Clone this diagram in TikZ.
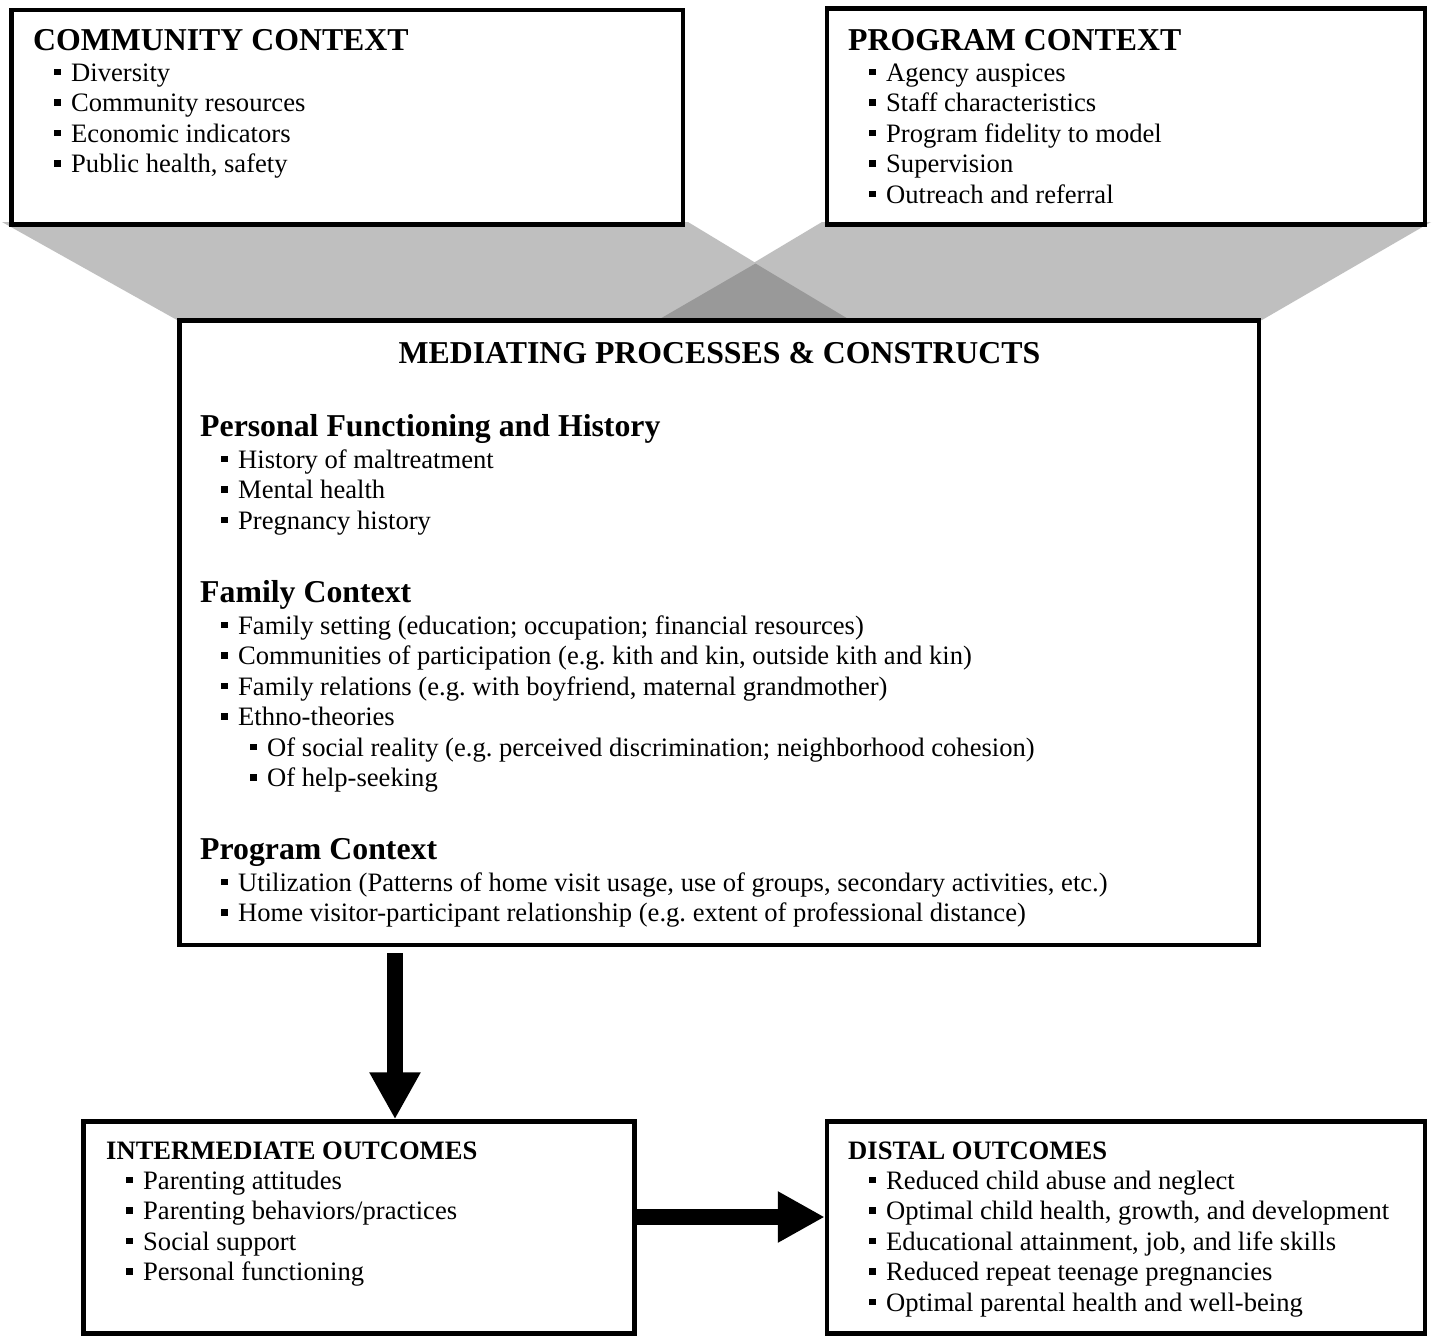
\documentclass[tikz,border=0pt]{standalone}
\usepackage{fontspec}
\setmainfont{Liberation Serif}
\usetikzlibrary{arrows.meta}
\frenchspacing
\newcommand\sqb{\rule[6pt]{6.5pt}{6.5pt}\hspace{10.5pt}}
\begin{document}
\begin{tikzpicture}[x=1pt,y=-1pt,
  box/.style={draw=black, line width=4.5pt, fill=white, rectangle, inner sep=0pt},
  hd/.style={anchor=base west, inner sep=0pt, font=\bfseries\fontsize{31.8pt}{36pt}\selectfont},
  shd/.style={anchor=base west, inner sep=0pt, font=\bfseries\fontsize{26.6pt}{30pt}\selectfont},
  itm/.style={anchor=base west, inner sep=0pt, font=\fontsize{26.6pt}{30pt}\selectfont},
  bigarrow/.style={line width=16.5pt, -{Triangle[length=47pt,width=48pt]}},
  funnel/.style={fill=black!25},
  overlapfill/.style={fill=black!40}]
\useasboundingbox (0,0) rectangle (1435,1336);
\fill[white] (0,0) rectangle (1435,1336);
% funnels
\fill[funnel] (2,222) -- (688,222) -- (850,320) -- (177,320) -- cycle;
\fill[funnel] (822,222) -- (1431,222) -- (1262,320) -- (658,320) -- cycle;
\fill[overlapfill] (755.5,263.5) -- (850,320) -- (658,320) -- cycle;
% boxes
\node[box, minimum width=671.5pt, minimum height=214.5pt] (comm) at (347.25,117.25) {};
\node[box, minimum width=598pt, minimum height=216pt] (prog) at (1126,116.5) {};
\node[box, minimum width=1079.5pt, minimum height=624.5pt] (med) at (719.25,632.75) {};
\node[box, minimum width=551pt, minimum height=212pt] (inter) at (359,1227.5) {};
\node[box, minimum width=598pt, minimum height=212pt] (dist) at (1126,1227.5) {};
% community
\node[hd] (ch) at (33,50) {COMMUNITY CONTEXT};
\node[itm] (c1) at (54,81) {\sqb Diversity};
\node[itm] (c2) at (54,111.6) {\sqb Community resources};
\node[itm] (c3) at (54,142.2) {\sqb Economic indicators};
\node[itm] (c4) at (54,172.8) {\sqb Public health, safety};
% program
\node[hd] (ph) at (848,50) {PROGRAM CONTEXT};
\node[itm] (p1) at (869,81) {\sqb Agency auspices};
\node[itm] (p2) at (869,111.6) {\sqb Staff characteristics};
\node[itm] (p3) at (869,142.2) {\sqb Program fidelity to model};
\node[itm] (p4) at (869,172.8) {\sqb Supervision};
\node[itm] (p5) at (869,203.4) {\sqb Outreach and referral};
% mediating
\node[hd, anchor=base] (mt) at (719.5,363) {MEDIATING PROCESSES \& CONSTRUCTS};
\node[hd] (m1h) at (200,436) {Personal Functioning and History};
\node[itm] (m11) at (221,468) {\sqb History of maltreatment};
\node[itm] (m12) at (221,498.5) {\sqb Mental health};
\node[itm] (m13) at (221,529) {\sqb Pregnancy history};
\node[hd] (m2h) at (200,602) {Family Context};
\node[itm] (m21) at (221,634) {\sqb Family setting (education; occupation; financial resources)};
\node[itm] (m22) at (221,664.5) {\sqb Communities of participation (e.g. kith and kin, outside kith and kin)};
\node[itm] (m23) at (221,695) {\sqb Family relations (e.g. with boyfriend, maternal grandmother)};
\node[itm] (m24) at (221,725.5) {\sqb Ethno-theories};
\node[itm] (m25) at (250,756) {\sqb Of social reality (e.g. perceived discrimination; neighborhood cohesion)};
\node[itm] (m26) at (250,786.5) {\sqb Of help-seeking};
\node[hd] (m3h) at (200,859) {Program Context};
\node[itm] (m31) at (221,891) {\sqb Utilization (Patterns of home visit usage, use of groups, secondary activities, etc.)};
\node[itm] (m32) at (221,921.5) {\sqb Home visitor-participant relationship (e.g. extent of professional distance)};
% intermediate
\node[shd] (ih) at (106,1159) {INTERMEDIATE OUTCOMES};
\node[itm] (i1) at (126,1189) {\sqb Parenting attitudes};
\node[itm] (i2) at (126,1219.5) {\sqb Parenting behaviors/practices};
\node[itm] (i3) at (126,1250) {\sqb Social support};
\node[itm] (i4) at (126,1280.5) {\sqb Personal functioning};
% distal
\node[shd] (dh) at (848,1159) {DISTAL OUTCOMES};
\node[itm] (d1) at (869,1189) {\sqb Reduced child abuse and neglect};
\node[itm] (d2) at (869,1219.5) {\sqb Optimal child health, growth, and development};
\node[itm] (d3) at (869,1250) {\sqb Educational attainment, job, and life skills};
\node[itm] (d4) at (869,1280.5) {\sqb Reduced repeat teenage pregnancies};
\node[itm] (d5) at (869,1311) {\sqb Optimal parental health and well-being};
% arrows
\coordinate (dtop) at (395,953);
\coordinate (rmid) at (700,1217);
\draw[bigarrow] (dtop) -- (dtop |- inter.north);
\draw[bigarrow] (inter.east |- rmid) -- (dist.west |- rmid);
\end{tikzpicture}
\end{document}
